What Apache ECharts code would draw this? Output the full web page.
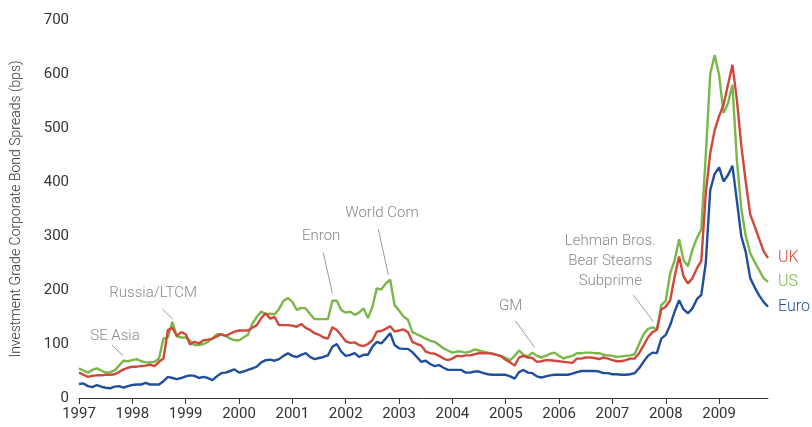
<!DOCTYPE html>
<html>
<head>
<meta charset="utf-8">
<script src="https://cdn.jsdelivr.net/npm/echarts@6/dist/echarts.min.js"></script>
<style>
html,body{margin:0;padding:0;background:#fff;}
#chart{width:812px;height:427px;}
</style>
</head>
<body>
<div id="chart"></div>
<script>
// Monthly values, Jan 1997 .. Dec 2009 (bps)
const startYear = 1997;
const yearTicks = [1997,1998,1999,2000,2001,2002,2003,2004,2005,2006,2007,2008,2009];

const ukValues = [
  47,43,39,41,42,42,43,43,44,48,53,56,
  58,58,59,60,62,59,67,73,126,130,115,122,
  118,99,104,101,107,108,110,114,118,115,119,123,
  125,125,125,130,135,148,157,147,150,135,135,135,
  134,132,137,130,126,120,117,112,110,131,126,116,
  105,102,103,98,96,100,107,123,124,128,133,123,
  125,127,122,104,100,97,86,83,82,78,73,70,
  73,78,77,79,79,81,83,83,83,82,80,77,
  71,66,60,75,78,75,74,67,68,70,70,69,
  68,67,66,65,73,73,75,75,74,72,75,73,
  70,68,68,70,73,73,83,97,112,122,126,164,
  169,181,225,262,225,212,222,240,254,379,453,496,
  522,543,580,617,552,467,400,340,318,295,272,259
];
const usValues = [
  55,51,47,52,55,51,47,48,51,60,69,68,
  70,72,68,66,66,67,73,110,112,141,114,112,
  112,106,98,98,100,104,110,118,118,115,110,107,
  107,112,117,138,150,160,155,156,155,165,180,185,
  178,163,167,166,155,146,146,146,146,180,180,163,
  158,160,154,158,166,148,169,203,201,212,219,172,
  162,151,145,122,118,114,110,106,104,98,92,88,
  84,86,86,84,86,90,88,86,84,82,80,78,
  74,70,78,88,80,77,84,78,75,78,82,84,
  78,73,76,78,83,83,84,84,83,83,80,79,
  78,76,77,78,79,81,100,118,128,131,127,172,
  180,231,255,294,255,244,275,296,312,450,600,635,
  598,528,546,580,440,350,300,268,252,237,222,215
];
const euroValues = [
  26,27,22,20,24,21,19,18,21,22,19,22,
  24,25,25,28,25,25,25,31,39,37,35,37,
  40,42,41,37,39,37,33,40,46,47,50,53,
  47,49,52,55,58,66,70,71,69,72,78,83,
  78,76,80,83,76,72,74,76,79,95,100,86,
  78,80,83,76,80,80,95,104,101,110,120,98,
  92,91,91,85,76,67,69,63,59,61,56,52,
  52,52,52,47,47,49,49,46,44,43,43,43,
  43,40,36,48,52,47,46,40,38,40,42,43,
  43,43,43,45,48,50,50,50,50,49,46,46,
  44,44,43,43,44,46,55,67,78,84,83,110,
  117,135,160,181,164,157,166,183,191,250,385,415,
  427,401,413,430,365,299,270,222,205,190,178,169
];

const seriesNames = ['UK','US','Euro'];
const seriesColors = ['#d0483c','#7ab648','#1f4f9c'];

// annotations in data space: [year, value]
const annotations = [
  {text:['SE Asia'], at:[1997.675,115], line:[[1997.62,98],[1997.83,78]]},
  {text:['Russia/LTCM'], at:[1998.39,194], line:[[1998.56,165],[1998.76,146]]},
  {text:['Enron'], at:[2001.54,300], line:[[2001.58,269],[2001.75,194]]},
  {text:['World Com'], at:[2002.68,343], line:[[2002.61,313],[2002.80,228]]},
  {text:['GM'], at:[2005.09,170], line:[[2005.18,143],[2005.54,94]]},
  {text:['Lehman Bros.','Bear Stearns','Subprime'], at:[2006.96,254], line:[[2007.39,191],[2007.77,141]]}
];

const toPairs = vals => vals.map((v,i)=>[startYear + i/12, v]);
const lastX = startYear + (ukValues.length-1)/12;

const FONT = 'Roboto, "Liberation Sans", sans-serif';

const chart = echarts.init(document.getElementById('chart'), null, {renderer:'canvas'});
const allVals = [ukValues, usValues, euroValues];
chart.setOption({
  animation:false,
  grid:{left:79,right:44,top:20,bottom:29},
  xAxis:{
    type:'value', min:startYear, max:lastX,
    axisLine:{show:true,lineStyle:{color:'#333',width:1}},
    axisTick:{show:true,length:6,lineStyle:{color:'#333'},customValues:yearTicks},
    axisLabel:{customValues:yearTicks,formatter:v=>String(Math.round(v)),color:'#333',fontSize:15,fontFamily:FONT,fontWeight:400,margin:9},
    splitLine:{show:false}
  },
  yAxis:{
    type:'value', min:0, max:700, interval:100,
    axisLine:{show:false}, axisTick:{show:false}, splitLine:{show:false},
    axisLabel:{color:'#333',fontSize:15,fontFamily:FONT,fontWeight:400,margin:10},
    name:'Investment Grade Corporate Bond Spreads (bps)',
    nameLocation:'middle', nameGap:56,
    nameTextStyle:{color:'#333',fontSize:14,fontFamily:FONT,fontWeight:300}
  },
  series: seriesNames.map((n,k)=>({
    name:n, type:'line', data:toPairs(allVals[k]), showSymbol:false, symbol:'none',
    lineStyle:{color:seriesColors[k],width:2.4}, itemStyle:{color:seriesColors[k]},
    z: 3-k,
    endLabel:{show:true,formatter:n,color:seriesColors[k],fontSize:16,fontFamily:FONT,fontWeight:300,distance:10}
  }))
});

const graphics = [];
annotations.forEach(a=>{
  const p = chart.convertToPixel({gridIndex:0}, a.at);
  const l0 = chart.convertToPixel({gridIndex:0}, a.line[0]);
  const l1 = chart.convertToPixel({gridIndex:0}, a.line[1]);
  graphics.push({type:'text', x:p[0], y:p[1], style:{text:a.text.join('\n'), fill:'#888', font:'300 15px '+FONT, align:'center', verticalAlign:'middle', lineHeight:20}});
  graphics.push({type:'line', shape:{x1:l0[0],y1:l0[1],x2:l1[0],y2:l1[1]}, style:{stroke:'#999',lineWidth:1}});
});
chart.setOption({graphic:graphics});
</script>
</body>
</html>
